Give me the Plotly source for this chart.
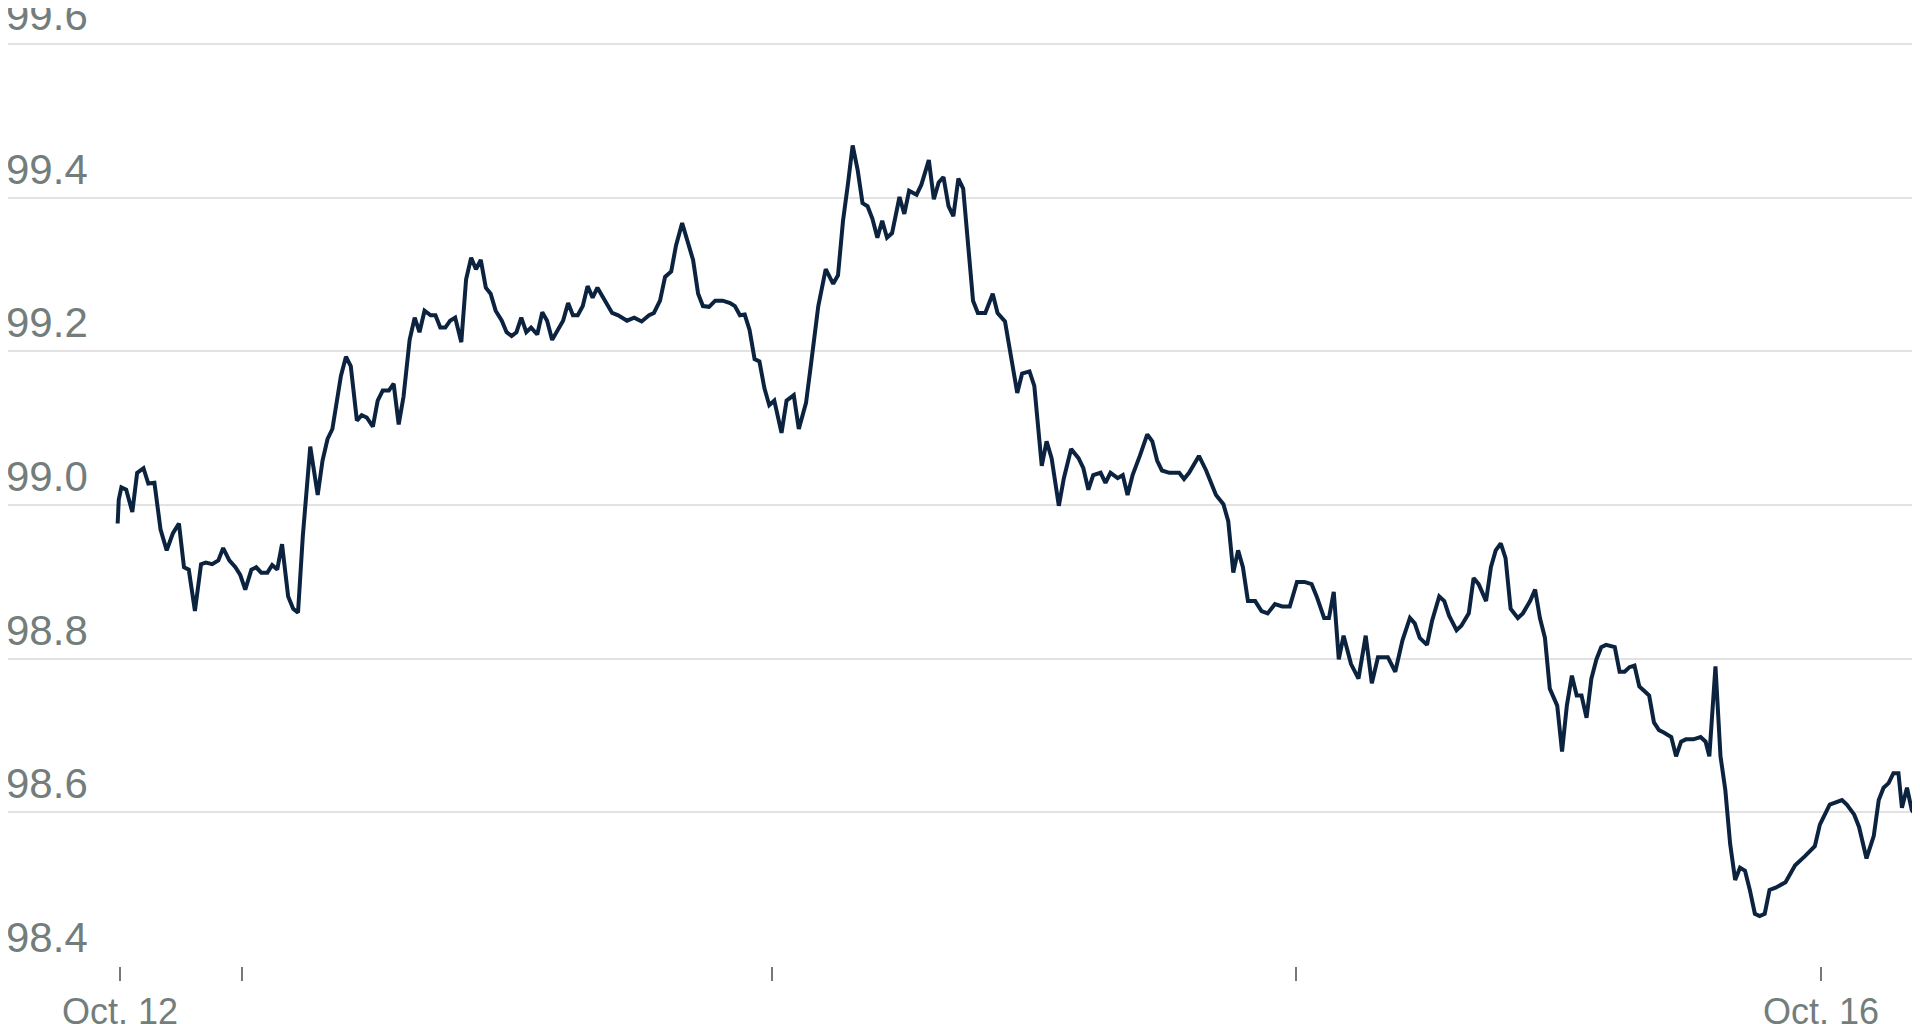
import plotly.graph_objects as go

# hours since Oct. 12 00:00 and index level
hours = [-0.11, -0.06, 0.06, 0.28, 0.56, 0.78, 1.07, 1.29, 1.57, 1.85, 2.13, 2.41, 2.69, 2.92, 3.14, 3.42, 3.70, 3.92,
         4.21, 4.49, 4.71, 4.99, 5.27, 5.49, 5.72, 6.00, 6.22, 6.45, 6.73, 6.95, 7.18, 7.40, 7.68, 7.91, 8.13, 8.35,
         8.69, 9.03, 9.25, 9.48, 9.70, 9.87, 10.09, 10.32, 10.54, 10.82, 11.04, 11.27, 11.55, 11.77, 12.00, 12.28,
         12.50, 12.73, 12.95, 13.23, 13.46, 13.68, 13.91, 14.19, 14.41, 14.63, 14.86, 15.08, 15.31, 15.59, 15.81,
         16.04, 16.26, 16.48, 16.71, 16.93, 17.16, 17.44, 17.66, 17.89, 18.11, 18.33, 18.56, 18.78, 19.06, 19.29,
         19.51, 19.74, 19.96, 20.24, 20.47, 20.69, 20.91, 21.14, 21.36, 21.59, 21.81, 22.04, 22.26, 22.48, 22.76,
         23.16, 23.49, 23.83, 24.17, 24.39, 24.67, 24.90, 25.18, 25.40, 25.68, 25.96, 26.18, 26.41, 26.63, 26.91,
         27.19, 27.53, 27.87, 28.09, 28.32, 28.54, 28.76, 28.99, 29.21, 29.44, 29.66, 29.89, 30.22, 30.45, 30.78,
         31.01, 31.34, 31.57, 31.90, 32.24, 32.58, 32.80, 33.03, 33.25, 33.47, 33.70, 33.92, 34.15, 34.37, 34.60,
         34.82, 35.04, 35.27, 35.61, 35.83, 36.05, 36.39, 36.61, 36.95, 37.18, 37.40, 37.62, 37.85, 38.07, 38.30,
         38.52, 38.74, 38.97, 39.19, 39.53, 39.87, 40.09, 40.43, 40.76, 40.99, 41.21, 41.55, 41.77, 42.11, 42.33,
         42.56, 42.89, 43.12, 43.45, 43.79, 44.01, 44.24, 44.46, 44.80, 45.02, 45.25, 45.58, 45.81, 46.03, 46.26,
         46.59, 46.93, 47.16, 47.38, 47.60, 47.94, 48.39, 48.61, 48.84, 49.06, 49.29, 49.62, 49.85, 50.07, 50.41,
         50.63, 50.86, 51.08, 51.30, 51.53, 51.86, 52.15, 52.43, 52.76, 53.10, 53.44, 53.77, 54.11, 54.44, 54.67,
         55.01, 55.23, 55.45, 55.68, 55.90, 56.24, 56.58, 56.91, 57.19, 57.47, 57.92, 58.26, 58.59, 58.93, 59.15,
         59.38, 59.71, 59.94, 60.27, 60.50, 60.72, 61.06, 61.28, 61.62, 61.84, 62.07, 62.41, 62.63, 62.85, 63.08,
         63.30, 63.53, 63.86, 64.09, 64.42, 64.65, 64.87, 65.10, 65.32, 65.66, 65.88, 66.10, 66.33, 66.55, 66.77,
         67.00, 67.22, 67.45, 67.67, 67.89, 68.29, 68.51, 68.74, 68.96, 69.19, 69.41, 69.64, 69.86, 70.08, 70.31,
         70.53, 70.87, 71.09, 71.32, 71.54, 71.88, 72.21, 72.44, 72.61, 72.89, 73.12, 73.34, 73.56, 73.79, 74.01,
         74.24, 74.46, 74.69, 74.91, 75.14, 75.36, 75.64, 76.09, 76.53, 76.98, 77.43, 77.66, 78.11, 78.67, 78.89,
         79.23, 79.45, 79.79, 80.12, 80.35, 80.57, 80.80, 81.02, 81.25, 81.41, 81.64, 81.86, 82.20, 82.48]

level = [98.976, 99.007, 99.023, 99.020, 98.991, 99.042, 99.048, 99.028, 99.029, 98.968, 98.941, 98.963, 98.976,
         98.919, 98.916, 98.862, 98.923, 98.925, 98.923, 98.928, 98.944, 98.928, 98.919, 98.909, 98.890, 98.916,
         98.919, 98.912, 98.912, 98.922, 98.916, 98.949, 98.881, 98.865, 98.860, 98.960, 99.076, 99.013, 99.058,
         99.086, 99.099, 99.133, 99.168, 99.193, 99.181, 99.110, 99.117, 99.114, 99.102, 99.136, 99.149, 99.149,
         99.158, 99.105, 99.141, 99.215, 99.244, 99.225, 99.253, 99.247, 99.247, 99.231, 99.231, 99.240, 99.244,
         99.212, 99.294, 99.322, 99.307, 99.319, 99.283, 99.275, 99.253, 99.240, 99.225, 99.220, 99.225, 99.244,
         99.225, 99.231, 99.222, 99.251, 99.240, 99.215, 99.225, 99.240, 99.263, 99.247, 99.247, 99.259, 99.285,
         99.270, 99.283, 99.272, 99.259, 99.250, 99.247, 99.240, 99.244, 99.239, 99.247, 99.250, 99.266, 99.297,
         99.304, 99.338, 99.367, 99.341, 99.319, 99.275, 99.259, 99.258, 99.266, 99.266, 99.263, 99.259, 99.247,
         99.248, 99.228, 99.190, 99.187, 99.152, 99.130, 99.136, 99.094, 99.136, 99.143, 99.099, 99.133, 99.184,
         99.259, 99.307, 99.288, 99.299, 99.370, 99.417, 99.468, 99.436, 99.393, 99.389, 99.373, 99.348, 99.370,
         99.348, 99.354, 99.401, 99.379, 99.409, 99.404, 99.417, 99.449, 99.398, 99.420, 99.427, 99.389, 99.376,
         99.425, 99.412, 99.338, 99.266, 99.250, 99.250, 99.275, 99.250, 99.239, 99.181, 99.146, 99.171, 99.174,
         99.155, 99.051, 99.083, 99.061, 98.999, 99.035, 99.073, 99.061, 99.048, 99.020, 99.039, 99.042, 99.029,
         99.042, 99.035, 99.039, 99.013, 99.039, 99.064, 99.092, 99.083, 99.058, 99.045, 99.042, 99.042, 99.034,
         99.042, 99.054, 99.064, 99.045, 99.029, 99.013, 99.001, 98.979, 98.912, 98.941, 98.919, 98.875, 98.875,
         98.862, 98.859, 98.871, 98.868, 98.868, 98.900, 98.900, 98.897, 98.881, 98.853, 98.853, 98.887, 98.799,
         98.830, 98.793, 98.774, 98.830, 98.768, 98.802, 98.802, 98.783, 98.824, 98.853, 98.846, 98.827, 98.818,
         98.849, 98.881, 98.875, 98.856, 98.837, 98.843, 98.859, 98.905, 98.897, 98.875, 98.919, 98.941, 98.950,
         98.931, 98.865, 98.853, 98.859, 98.875, 98.890, 98.853, 98.827, 98.761, 98.739, 98.679, 98.739, 98.778,
         98.752, 98.752, 98.723, 98.774, 98.799, 98.815, 98.818, 98.815, 98.783, 98.783, 98.789, 98.791, 98.764,
         98.758, 98.752, 98.717, 98.707, 98.704, 98.698, 98.673, 98.692, 98.695, 98.695, 98.698, 98.692, 98.673,
         98.790, 98.673, 98.629, 98.559, 98.512, 98.528, 98.524, 98.499, 98.468, 98.465, 98.468, 98.499, 98.502,
         98.509, 98.531, 98.543, 98.556, 98.584, 98.610, 98.616, 98.610, 98.597, 98.581, 98.540, 98.569, 98.616,
         98.632, 98.638, 98.651, 98.651, 98.606, 98.632, 98.603, 98.591, 98.572]

x_ticks = [0, 5.55, 29.77, 53.71, 77.71]
x_labels = ["Oct. 12", "", "", "", "Oct. 16"]
y_ticks = [98.4, 98.6, 98.8, 99.0, 99.2, 99.4, 99.6]

GRAY = "#737d7b"
GRID = "#e2e2e2"

fig = go.Figure()
fig.add_trace(go.Scatter(
    x=hours, y=level, mode="lines",
    line=dict(color="#0c2340", width=4),
    hoverinfo="skip", showlegend=False
))

# y labels sit above their gridlines, flush left
for v in y_ticks:
    fig.add_annotation(
        x=0, xref="paper", y=v, yref="y", text=f"{v:.1f}",
        showarrow=False, xanchor="left", yanchor="bottom", yshift=4, xshift=-3,
        borderpad=0,
        font=dict(family="Liberation Sans", size=42, color=GRAY)
    )

fig.update_layout(
    width=1920, height=1024,
    plot_bgcolor="white", paper_bgcolor="white",
    margin=dict(l=0, r=0, t=0, b=63),
    xaxis=dict(
        range=[-5.12, 82.6], tickmode="array", tickvals=x_ticks, ticktext=x_labels,
        showgrid=False, zeroline=False, showline=False,
        ticks="outside", ticklen=14, tickwidth=2, tickcolor="#777",
        tickfont=dict(family="Liberation Sans", size=36, color=GRAY)
    ),
    yaxis=dict(
        range=[98.4, 99.647], tickvals=y_ticks, showticklabels=False,
        showgrid=True, gridcolor=GRID, gridwidth=2, zeroline=False
    ),
)

fig.write_html("out.html")
